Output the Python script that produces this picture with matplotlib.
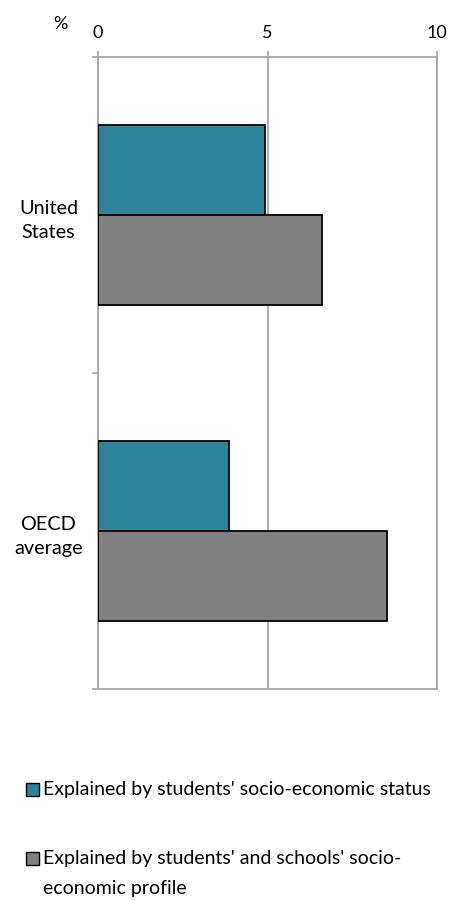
import matplotlib
matplotlib.use("Agg")
import matplotlib.pyplot as plt
import numpy as np
from matplotlib.patches import Rectangle

categories = ["United\nStates", "OECD\naverage"]
ses_values = [4.93, 3.87]
profile_values = [6.61, 8.53]
series_labels = ["Explained by students' socio-economic status",
                 "Explained by students' and schools' socio-\neconomic profile"]
xticks = [0, 5, 10]

plt.rcParams['font.family'] = ['Lato', 'DejaVu Sans']

W, H = 449, 900
fig = plt.figure(figsize=(W / 100, H / 100), dpi=100)
ax = fig.add_axes([98 / W, 1 - 689 / H, (437 - 98) / W, (689 - 57) / H])

teal = "#2E8399"
grey = "#808080"
gridc = "#A6A6A6"
h = 0.2855
y = np.arange(len(categories))
ax.barh(y - h / 2, ses_values, height=h, color=teal, edgecolor="black", linewidth=1.3, zorder=3)
ax.barh(y + h / 2, profile_values, height=h, color=grey, edgecolor="black", linewidth=1.3, zorder=3)

ax.set_xlim(0, 10)
ax.set_ylim(len(categories) - 0.5, -0.5)
ax.xaxis.tick_top()
ax.set_xticks(xticks)
ax.set_xticklabels([str(t) for t in xticks], fontsize=13)
ax.tick_params(axis='x', length=4.5, width=1.2, color=gridc, pad=7.3)
ax.xaxis.grid(True, color=gridc, linewidth=1.3, zorder=0)

ax.set_yticks(y)
ax.set_yticklabels(categories, fontsize=14.3, ha='center', linespacing=1.55)
ax.tick_params(axis='y', which='major', length=0, pad=35.6)
ax.set_yticks(np.arange(-0.5, len(categories), 1.0), minor=True)
ax.tick_params(axis='y', which='minor', length=4.5, width=1.2, color=gridc)

for s in ax.spines.values():
    s.set_color(gridc)
    s.set_linewidth(1.3)

fig.text(60 / W, 1 - 29 / H, "%", fontsize=13, ha='center', va='baseline')

# legend drawn manually to match the layout
leg_colors = [teal, grey]
leg_box_top = [783, 852]
leg_baseline = [795, 864]
for col, top, base, lab in zip(leg_colors, leg_box_top, leg_baseline, series_labels):
    fig.patches.append(Rectangle((26 / W, 1 - (top + 12.5) / H), 12.5 / W, 12.5 / H,
                                 transform=fig.transFigure, facecolor=col,
                                 edgecolor="black", linewidth=1.0))
    lines = lab.split("\n")
    for i, ln in enumerate(lines):
        fig.text(43 / W, 1 - (base + 30 * i) / H, ln, fontsize=14, ha='left', va='baseline')

fig.savefig("out.png", dpi=100)
